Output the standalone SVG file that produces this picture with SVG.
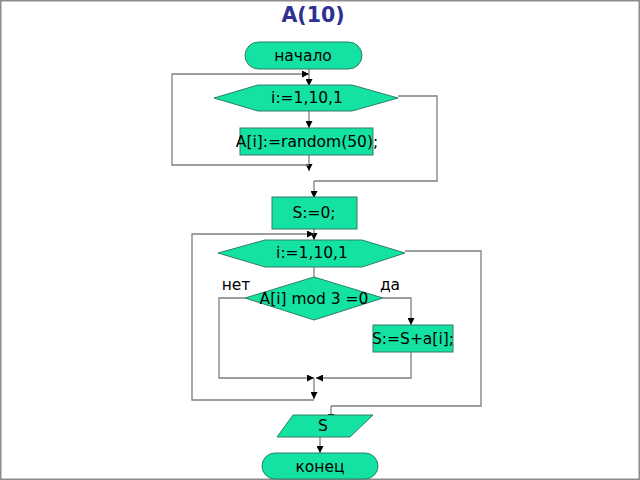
<svg xmlns="http://www.w3.org/2000/svg" width="640" height="480" viewBox="0 0 640 480">
<style>
.n{fill:#14E2A2;stroke:#2F7F66;stroke-width:1}
.t{font-family:"DejaVu Sans",sans-serif;font-size:15.5px;fill:#000;text-anchor:middle;dominant-baseline:central}
.c{fill:none;stroke:#7F7F7F;stroke-width:1.3}
.a{fill:none;stroke:#7F7F7F;stroke-width:1.3;marker-end:url(#ah)}
</style>
<defs>
<marker id="ah" viewBox="0 0 10 10" refX="10" refY="5" markerWidth="7" markerHeight="7" markerUnits="userSpaceOnUse" orient="auto">
<path d="M0,0L10,5L0,10z" fill="#000"/>
</marker>
</defs>
<rect x="0" y="0" width="640" height="480" fill="#fff"/>
<rect x="0.75" y="0.75" width="638.5" height="478.5" fill="none" stroke="#8C8C8C" stroke-width="1.5"/>
<text x="313" y="15" font-family="DejaVu Sans,sans-serif" font-weight="bold" font-size="20.5" fill="#2E3192" text-anchor="middle" dominant-baseline="central">A(10)</text>
<g id="connectors">
<path class="a" d="M309,69V86"/>
<path class="a" d="M309,111V128"/>
<path class="a" d="M309,155V171"/>
<path class="a" d="M309,165H172V74H309"/>
<path class="c" d="M398,96H437V181H314"/>
<path class="a" d="M314,181V198"/>
<path class="a" d="M314,229V240"/>
<path class="a" d="M314,400H192V234H314"/>
<path class="c" d="M314,267V277"/>
<path class="c" d="M405,251H481V406H331"/>
<path class="a" d="M331,406V421"/>
<path class="a" d="M245,298H219V378H314"/>
<path class="a" d="M383,298H411V325"/>
<path class="a" d="M411,352V378H316"/>
<path class="a" d="M314,378V399"/>
<path class="a" d="M320,437V453"/>
</g>
<g id="start">
<rect class="n" x="245" y="42" width="117" height="27" rx="13.5"/>
<text class="t" x="303" y="55.5">начало</text>
</g>
<g id="loop1">
<polygon class="n" points="214,98 258,85 352,85 398,98 352,111 258,111"/>
<text class="t" x="307" y="98">i:=1,10,1</text>
</g>
<g id="assign1">
<rect class="n" x="240" y="128" width="133" height="27"/>
<text class="t" x="307" y="141.5">A[i]:=random(50);</text>
</g>
<g id="init">
<rect class="n" x="272" y="197" width="85" height="32"/>
<text class="t" x="314" y="213">S:=0;</text>
</g>
<g id="loop2">
<polygon class="n" points="218,253 265,240 362,240 405,253 362,267 265,267"/>
<text class="t" x="312" y="253">i:=1,10,1</text>
</g>
<g id="cond">
<polygon class="n" points="314,277 383,298 314,320 245,298"/>
<text class="t" x="314" y="299">A[i] mod 3 =0</text>
<text class="t" x="236" y="285">нет</text>
<text class="t" x="390" y="285">да</text>
</g>
<g id="sum">
<rect class="n" x="373" y="325" width="80" height="27"/>
<text class="t" x="413" y="339">S:=S+a[i];</text>
</g>
<g id="output">
<polygon class="n" points="293,415 373,415 350,437 277,437"/>
<text class="t" x="323" y="426">S</text>
</g>
<g id="end">
<rect class="n" x="262" y="453" width="116" height="26" rx="13"/>
<text class="t" x="320" y="466.5">конец</text>
</g>
</svg>
